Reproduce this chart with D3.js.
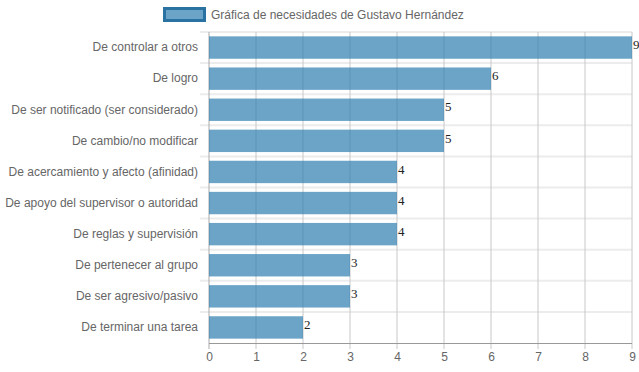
<!DOCTYPE html>
<html>
<head>
<meta charset="utf-8">
<script src="https://cdn.jsdelivr.net/npm/d3@7"></script>
<style>
  body { margin: 0; background: #fff; }
  svg { display: block; }
  text { font-family: 'Liberation Sans', Arial, sans-serif; }
</style>
</head>
<body>
<svg id="chart" width="639" height="372"></svg>
<script>
const categories = [
  'De controlar a otros',
  'De logro',
  'De ser notificado (ser considerado)',
  'De cambio/no modificar',
  'De acercamiento y afecto (afinidad)',
  'De apoyo del supervisor o autoridad',
  'De reglas y supervisión',
  'De pertenecer al grupo',
  'De ser agresivo/pasivo',
  'De terminar una tarea'
]
const values = [9, 6, 5, 5, 4, 4, 4, 3, 3, 2]
const xTicks = [0, 1, 2, 3, 4, 5, 6, 7, 8, 9]
const seriesName = 'Gráfica de necesidades de Gustavo Hernández'

const svg = d3.select('#chart')

const margin = { top: 32, right: 7, bottom: 29, left: 209 }
const width = 639 - margin.right
const height = 372 - margin.bottom

const xscale = d3.scaleLinear()
  .domain([0, 9])
  .range([margin.left, width])

const yscale = d3.scaleBand()
  .domain(categories)
  .range([margin.top, height])
  .paddingInner(0.28)
  .paddingOuter(0.14)

// horizontal separators between categories
const step = yscale.step()
const bounds = d3.range(categories.length).map((i) => margin.top + i * step)
svg.append('g')
  .selectAll('line')
  .data(bounds)
  .enter()
  .append('line')
  .attr('x1', margin.left - 9)
  .attr('x2', width)
  .attr('y1', (d) => d)
  .attr('y2', (d) => d)
  .attr('stroke', '#ececec')
  .attr('stroke-width', 2)

// vertical grid
svg.append('g')
  .selectAll('line')
  .data(xTicks)
  .enter()
  .append('line')
  .attr('x1', (d) => xscale(d))
  .attr('x2', (d) => xscale(d))
  .attr('y1', margin.top)
  .attr('y2', height + 6)
  .attr('stroke', (d) => d === 0 ? '#aaa' : '#c8c8c8')
  .attr('stroke-width', 1)

// bars
svg.append('g')
  .selectAll('rect')
  .data(values)
  .enter()
  .append('rect')
  .attr('x', xscale(0))
  .attr('y', (d, i) => yscale(categories[i]))
  .attr('width', (d) => xscale(d) - xscale(0))
  .attr('height', yscale.bandwidth())
  .attr('fill', 'rgba(44, 126, 174, 0.7)')

// value labels
svg.append('g')
  .selectAll('text')
  .data(values)
  .enter()
  .append('text')
  .attr('x', (d) => xscale(d) + 1)
  .attr('y', (d, i) => yscale(categories[i]) + yscale.bandwidth() / 2 - 7.5)
  .attr('dy', '0.71em')
  .style('font-family', "'Liberation Serif', 'Times New Roman', serif")
  .style('font-size', '13px')
  .attr('fill', '#222')
  .text((d) => d)

// bottom axis
const xAxis = d3.axisBottom(xscale)
  .tickValues(xTicks)
  .tickSize(0)
  .tickPadding(9)
const gx = svg.append('g')
  .attr('transform', `translate(0, ${height})`)
  .call(xAxis)
gx.select('.domain').attr('stroke', '#999').attr('d', `M${margin.left},0.5H${width}`)
gx.selectAll('text')
  .style('font-size', '12px')
  .style('font-family', "'Liberation Sans', Arial, sans-serif")
  .attr('fill', '#666')

// left axis labels
const yAxis = d3.axisLeft(yscale)
  .tickSize(0)
  .tickPadding(11)
const gy = svg.append('g')
  .attr('transform', `translate(${margin.left}, 0)`)
  .call(yAxis)
gy.select('.domain').remove()
gy.selectAll('text')
  .style('font-size', '12px')
  .style('font-family', "'Liberation Sans', Arial, sans-serif")
  .attr('fill', '#666')

// legend
const legend = svg.append('g')
legend.append('rect')
  .attr('x', 164.5)
  .attr('y', 8.5)
  .attr('width', 40)
  .attr('height', 12)
  .attr('fill', 'rgba(44, 126, 174, 0.7)')
  .attr('stroke', '#2a72a2')
  .attr('stroke-width', 3)
legend.append('text')
  .attr('x', 211)
  .attr('y', 15)
  .attr('dy', '0.35em')
  .style('font-size', '12px')
  .attr('fill', '#666')
  .text(seriesName)
</script>
</body>
</html>
